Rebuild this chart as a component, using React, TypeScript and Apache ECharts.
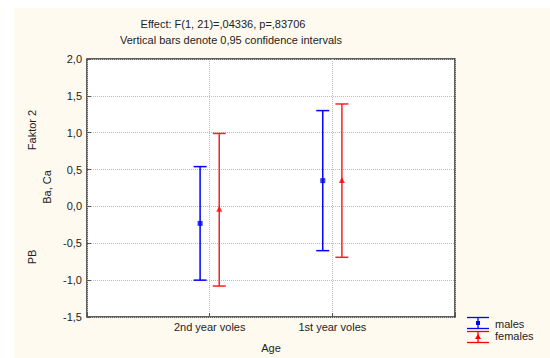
import React, { useEffect, useRef } from "react";
import * as echarts from "echarts";

const categories = ["2nd year voles", "1st year voles"];
const maleMeans = [-0.23, 0.35];
const maleLow = [-1.0, -0.6];
const maleHigh = [0.54, 1.3];
const femaleMeans = [-0.03, 0.36];
const femaleLow = [-1.08, -0.69];
const femaleHigh = [0.99, 1.39];
const yTicks = [-1.5, -1.0, -0.5, 0.0, 0.5, 1.0, 1.5, 2.0];

const OFFSET = 0.078;
const FONT = "Liberation Sans, Arial, sans-serif";
const FS = 11;

function errorSeries(name: string, color: string, low: number[], high: number[], off: number) {
  return {
    name,
    type: "custom",
    data: low.map((l, i) => [i + 1 + off, l, high[i]]),
    renderItem: (params: any, api: any) => {
      const x = api.value(0);
      const lo = api.coord([x, api.value(1)]);
      const hi = api.coord([x, api.value(2)]);
      const hw = 6.5;
      const style = { stroke: color, lineWidth: 1.5 };
      return {
        type: "group",
        children: [
          { type: "line", shape: { x1: lo[0], y1: lo[1], x2: hi[0], y2: hi[1] }, style },
          { type: "line", shape: { x1: lo[0] - hw, y1: lo[1], x2: lo[0] + hw, y2: lo[1] }, style },
          { type: "line", shape: { x1: hi[0] - hw, y1: hi[1], x2: hi[0] + hw, y2: hi[1] }, style },
        ],
      };
    },
    z: 3,
  };
}

export default function App() {
  const ref = useRef<HTMLDivElement>(null);
  useEffect(() => {
    const chart = echarts.init(ref.current!, null, { renderer: "svg" });
    const textStyle = { fontFamily: FONT, fontSize: FS, fill: "#222" };
    chart.setOption({
      animation: false,
      backgroundColor: "#fff",
      textStyle: { fontFamily: FONT },
      grid: {
        left: 87, top: 59, right: 95, bottom: 41,
        show: true, backgroundColor: "#fff", borderColor: "#2a2a2a", borderWidth: 1.5,
      },
      xAxis: {
        type: "value", min: 0, max: 3, interval: 1,
        axisLine: { show: false, onZero: false },
        axisTick: { show: true, inside: true, length: 4, lineStyle: { color: "#555" } },
        splitLine: { show: true, lineStyle: { color: "#bbb", type: "dotted", width: 1 } },
        axisLabel: {
          color: "#222", fontSize: FS, fontFamily: FONT, margin: 4,
          formatter: (v: number) => (v >= 1 && v <= categories.length ? categories[v - 1] : ""),
        },
      },
      yAxis: {
        type: "value", min: yTicks[0], max: yTicks[yTicks.length - 1], interval: 0.5,
        axisLine: { show: false, onZero: false },
        axisTick: { show: true, inside: true, length: 4, lineStyle: { color: "#555" } },
        splitLine: { show: true, lineStyle: { color: "#bbb", type: "dotted", width: 1 } },
        axisLabel: {
          color: "#222", fontSize: FS, fontFamily: FONT, margin: 5,
          formatter: (v: number) => v.toFixed(1).replace(".", ","),
        },
      },
      series: [
        errorSeries("males-ci", "#0000ff", maleLow, maleHigh, -OFFSET),
        errorSeries("females-ci", "#ff2020", femaleLow, femaleHigh, OFFSET),
        {
          name: "males", type: "scatter", symbol: "rect", symbolSize: 5,
          itemStyle: { color: "#0000ff" }, z: 4,
          data: maleMeans.map((m, i) => [i + 1 - OFFSET, m]),
        },
        {
          name: "females", type: "scatter", symbol: "triangle", symbolSize: 6,
          itemStyle: { color: "#ff0000" }, z: 4,
          data: femaleMeans.map((m, i) => [i + 1 + OFFSET, m]),
        },
      ],
      graphic: [
        { type: "rect", shape: { x: 14, y: 8, width: 536, height: 350 }, style: { fill: "#fffaef" }, z: -10, silent: true },
        { type: "text", x: 223, y: 24, style: { ...textStyle, text: "Effect: F(1, 21)=,04336, p=,83706", align: "center", verticalAlign: "middle" } },
        { type: "text", x: 231, y: 40, style: { ...textStyle, text: "Vertical bars denote 0,95 confidence intervals", align: "center", verticalAlign: "middle" } },
        { type: "text", x: 32, y: 130, rotation: Math.PI / 2, style: { ...textStyle, text: "Faktor 2", align: "center", verticalAlign: "middle" } },
        { type: "text", x: 47, y: 187, rotation: Math.PI / 2, style: { ...textStyle, text: "Ba, Ca", align: "center", verticalAlign: "middle" } },
        { type: "text", x: 32, y: 257, rotation: Math.PI / 2, style: { ...textStyle, text: "PB", align: "center", verticalAlign: "middle" } },
        { type: "text", x: 271, y: 348, style: { ...textStyle, text: "Age", align: "center", verticalAlign: "middle" } },
        // legend
        { type: "line", shape: { x1: 467, y1: 317.5, x2: 489, y2: 317.5 }, style: { stroke: "#0000ff", lineWidth: 1.3 } },
        { type: "line", shape: { x1: 467, y1: 328.5, x2: 489, y2: 328.5 }, style: { stroke: "#0000ff", lineWidth: 1.3 } },
        { type: "line", shape: { x1: 478, y1: 317.5, x2: 478, y2: 328.5 }, style: { stroke: "#0000ff", lineWidth: 1.3 } },
        { type: "rect", shape: { x: 476, y: 321, width: 4, height: 4 }, style: { fill: "#0000ff" } },
        { type: "line", shape: { x1: 467, y1: 331.5, x2: 489, y2: 331.5 }, style: { stroke: "#ff0000", lineWidth: 1.3 } },
        { type: "line", shape: { x1: 467, y1: 342.5, x2: 489, y2: 342.5 }, style: { stroke: "#ff0000", lineWidth: 1.3 } },
        { type: "line", shape: { x1: 478, y1: 331.5, x2: 478, y2: 342.5 }, style: { stroke: "#ff0000", lineWidth: 1.3 } },
        { type: "polygon", shape: { points: [[478, 334], [481, 339], [475, 339]] }, style: { fill: "#ff0000" } },
        { type: "text", x: 495, y: 324, style: { ...textStyle, text: "males", align: "left", verticalAlign: "middle" } },
        { type: "text", x: 495, y: 336, style: { ...textStyle, text: "females", align: "left", verticalAlign: "middle" } },
      ],
    });
    return () => chart.dispose();
  }, []);
  return <div ref={ref} style={{ width: 550, height: 358, position: "absolute", left: 0, top: 0 }} />;
}
